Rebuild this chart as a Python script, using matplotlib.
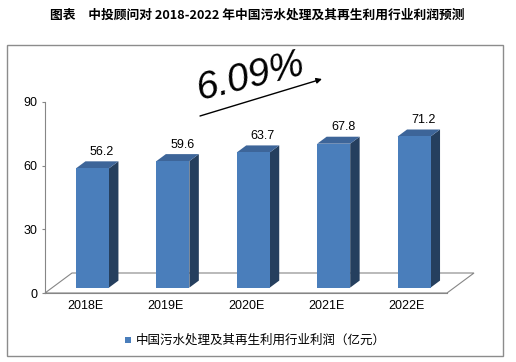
import matplotlib
matplotlib.use("Agg")
import matplotlib.pyplot as plt
from matplotlib.patches import Polygon, Rectangle

plt.rcParams['font.family'] = ['Liberation Sans', 'Noto Sans CJK SC', 'DejaVu Sans']

# ---- data ----
categories = ["2018E", "2019E", "2020E", "2021E", "2022E"]
profits = [56.2, 59.6, 63.7, 67.8, 71.2]
yticks = [0, 30, 60, 90]
series_name = "中国污水处理及其再生利用行业利润（亿元）"
title_text = "图表　中投顾问对 2018-2022 年中国污水处理及其再生利用行业利润预测"
growth_text = "6.09%"

W, H = 516, 362
fig = plt.figure(figsize=(W / 100, H / 100), dpi=100)

def fx(px):
    return px / W

def fy(py):
    return 1 - py / H

# frame + title (figure-level)
fig.patches.append(Rectangle((fx(7), fy(356)), fx(503) - fx(7), fy(45) - fy(356),
                             transform=fig.transFigure, fill=False,
                             edgecolor='#8c8c8c', linewidth=1.0))
fig.text(fx(257), fy(15), title_text, ha='center', va='center', fontsize=9.2,
         fontweight='bold', family=['Noto Sans CJK SC', 'DejaVu Sans'])

# main axes: x from -0.5..4.5 maps pixels 45..447 ; y 0..90 maps 293..102
ax = fig.add_axes([fx(45), fy(293), fx(447) - fx(45), fy(102) - fy(293)])
ax.set_xlim(-0.5, 4.5)
ax.set_ylim(0, 90)
ax.patch.set_alpha(0)

px_x = 402 / 5.0          # pixels per x unit
px_y = 191 / 90.0         # pixels per y unit
DX, DY = 27 / px_x, 20 / px_y           # total depth offset
f_front, f_back = 0.27, 0.62            # bar front/back depth fractions
bw = 33 / px_x

grey = '#868686'
# floor
n = len(categories)
floor = [(-0.5, 0), (n - 0.5, 0), (n - 0.5 + DX, DY), (-0.5 + DX, DY)]
ax.add_patch(Polygon(floor, closed=True, facecolor='white', edgecolor=grey,
                     linewidth=0.8, clip_on=False, zorder=1))

c_front, c_top, c_side = '#4A7EBB', '#3D6599', '#253F5E'
for i, v in enumerate(profits):
    ox1, oy1 = DX * f_front, DY * f_front
    ox2, oy2 = DX * f_back, DY * f_back
    x0 = i - bw / 2 + ox1
    x1 = i + bw / 2 + ox1
    y0 = oy1
    y1 = oy1 + v
    ddx, ddy = ox2 - ox1, oy2 - oy1
    front = [(x0, y0), (x1, y0), (x1, y1), (x0, y1)]
    side = [(x1, y0), (x1 + ddx, y0 + ddy), (x1 + ddx, y1 + ddy), (x1, y1)]
    top = [(x0, y1), (x1, y1), (x1 + ddx, y1 + ddy), (x0 + ddx, y1 + ddy)]
    for poly, col in ((side, c_side), (top, c_top), (front, c_front)):
        ax.add_patch(Polygon(poly, closed=True, facecolor=col, edgecolor='none',
                             clip_on=False, zorder=3))
    ax.annotate(f"{v}", xy=(i + ox2, y1 + ddy), xytext=(0, 2.5),
                textcoords='offset points', ha='center', va='bottom',
                fontsize=9, color='black', annotation_clip=False, zorder=5)

# axes styling
for s in ('top', 'right'):
    ax.spines[s].set_visible(False)
ax.spines['left'].set_color(grey)
ax.spines['bottom'].set_color(grey)
ax.spines['left'].set_linewidth(0.8)
ax.spines['bottom'].set_linewidth(0.8)
ax.set_yticks(yticks)
ax.set_yticklabels([str(t) for t in yticks], fontsize=9)
ax.tick_params(axis='y', length=2.5, color=grey, pad=3)
ax.set_xticks(range(n))
ax.set_xticklabels(categories, fontsize=9)
ax.tick_params(axis='x', length=0, pad=5)

# overlay axes in pixel coordinates for annotation + legend
ov = fig.add_axes([0, 0, 1, 1])
ov.set_xlim(0, W)
ov.set_ylim(H, 0)
ov.axis('off')
ov.annotate("", xy=(322, 79), xytext=(200, 116),
            arrowprops=dict(arrowstyle='-|>', color='black', lw=1.0,
                            mutation_scale=8, shrinkA=0, shrinkB=0))
ov.text(251, 77, growth_text, ha='center', va='center', rotation=14,
        fontsize=28, style='italic', color='black',
        family=['Liberation Sans'], rotation_mode='anchor')

# legend
ov.add_patch(Rectangle((125, 337), 6, 6, facecolor='#4A7EBB', edgecolor='none'))
ov.text(136, 340, series_name, ha='left', va='center', fontsize=9,
        family=['Noto Sans CJK SC', 'DejaVu Sans'])

fig.savefig("out.png", dpi=100)
